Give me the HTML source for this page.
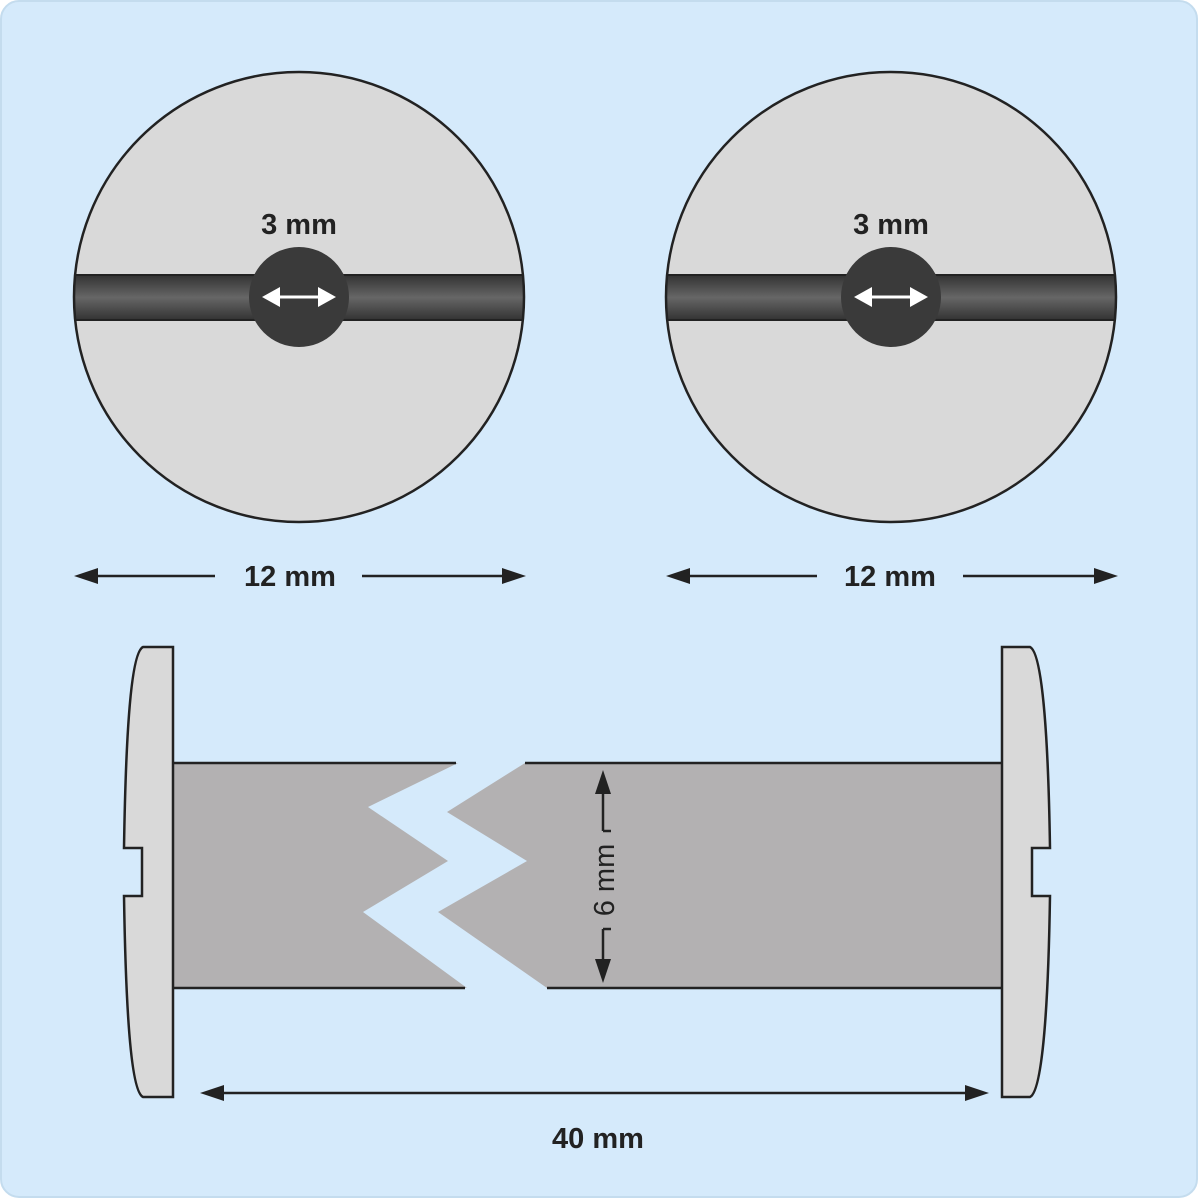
<!DOCTYPE html>
<html><head><style>
html,body{margin:0;padding:0;background:#fff;}
svg{display:block;}
text{font-family:"Liberation Sans",sans-serif;font-weight:bold;font-size:29px;fill:#222;}
</style></head><body>
<svg width="1198" height="1198" viewBox="0 0 1198 1198" xmlns="http://www.w3.org/2000/svg">
<defs>
<linearGradient id="bar" x1="0" y1="0" x2="0" y2="1">
<stop offset="0" stop-color="#333"/><stop offset="0.5" stop-color="#666"/><stop offset="1" stop-color="#333"/>
</linearGradient>
<clipPath id="c1"><circle cx="299" cy="297" r="225"/></clipPath>
<clipPath id="c2"><circle cx="891" cy="297" r="225"/></clipPath>
</defs>
<rect x="1" y="1" width="1196" height="1196" rx="18" fill="#d5eafb" stroke="#c4dcee" stroke-width="2"/>

<circle cx="299" cy="297" r="225" fill="#d9d9d9"/>
<rect x="70" y="275" width="460" height="45" fill="url(#bar)" clip-path="url(#c1)"/>
<line x1="70" y1="275" x2="530" y2="275" stroke="#222" stroke-width="2" clip-path="url(#c1)"/>
<line x1="70" y1="320" x2="530" y2="320" stroke="#222" stroke-width="2" clip-path="url(#c1)"/>
<circle cx="299" cy="297" r="225" fill="none" stroke="#222" stroke-width="2.5"/>
<circle cx="299" cy="297" r="50" fill="#3a3a3a"/>
<line x1="275" y1="297" x2="323" y2="297" stroke="#fff" stroke-width="3"/>
<polygon points="262,297 280,287 280,307" fill="#fff"/>
<polygon points="336,297 318,287 318,307" fill="#fff"/>
<text x="299" y="234" text-anchor="middle">3 mm</text>

<circle cx="891" cy="297" r="225" fill="#d9d9d9"/>
<rect x="660" y="275" width="460" height="45" fill="url(#bar)" clip-path="url(#c2)"/>
<line x1="660" y1="275" x2="1120" y2="275" stroke="#222" stroke-width="2" clip-path="url(#c2)"/>
<line x1="660" y1="320" x2="1120" y2="320" stroke="#222" stroke-width="2" clip-path="url(#c2)"/>
<circle cx="891" cy="297" r="225" fill="none" stroke="#222" stroke-width="2.5"/>
<circle cx="891" cy="297" r="50" fill="#3a3a3a"/>
<line x1="867" y1="297" x2="915" y2="297" stroke="#fff" stroke-width="3"/>
<polygon points="854,297 872,287 872,307" fill="#fff"/>
<polygon points="928,297 910,287 910,307" fill="#fff"/>
<text x="891" y="234" text-anchor="middle">3 mm</text>

<polygon points="173,763 458,763 368,807 448,861 363,912 467,988 173,988" fill="#b3b1b2"/>
<polygon points="525,763 1002,763 1002,988 547,988 438,912 527,861 447,812" fill="#b3b1b2"/>
<g stroke="#222" stroke-width="2.5">
<line x1="173" y1="763" x2="456" y2="763"/><line x1="173" y1="988" x2="465" y2="988"/>
<line x1="525" y1="763" x2="1002" y2="763"/><line x1="547" y1="988" x2="1002" y2="988"/>
</g>
<path d="M173,647 L143,647 C132,652 126,720 124,848 L142,848 L142,896 L124,896 C126,1024 132,1092 143,1097 L173,1097 Z" fill="#d9d9d9" stroke="#222" stroke-width="2.5"/>
<path d="M1002,647 L1030,647 C1041,652 1048,720 1050,848 L1032,848 L1032,896 L1050,896 C1048,1024 1041,1092 1030,1097 L1002,1097 Z" fill="#d9d9d9" stroke="#222" stroke-width="2.5"/>

<g stroke="#222" stroke-width="2.5">
<line x1="90" y1="576" x2="215" y2="576"/><line x1="362" y1="576" x2="510" y2="576"/>
<line x1="682" y1="576" x2="817" y2="576"/><line x1="963" y1="576" x2="1102" y2="576"/>
<line x1="215" y1="1093" x2="975" y2="1093"/>
<line x1="603" y1="792" x2="603" y2="831"/><line x1="603" y1="929" x2="603" y2="960"/>
<line x1="603" y1="831" x2="611" y2="831"/><line x1="603" y1="929" x2="611" y2="929"/>
</g>
<g fill="#222">
<polygon points="74,576 98,568 98,584"/><polygon points="526,576 502,568 502,584"/>
<polygon points="666,576 690,568 690,584"/><polygon points="1118,576 1094,568 1094,584"/>
<polygon points="200,1093 224,1085 224,1101"/><polygon points="989,1093 965,1085 965,1101"/>
<polygon points="603,770 595,794 611,794"/><polygon points="603,983 595,959 611,959"/>
</g>
<text x="290" y="586" text-anchor="middle">12 mm</text>
<text x="890" y="586" text-anchor="middle">12 mm</text>
<text x="598" y="1148" text-anchor="middle">40 mm</text>
<text transform="translate(614,880) rotate(-90)" text-anchor="middle" style="font-weight:normal">6 mm</text>
</svg>
</body></html>
